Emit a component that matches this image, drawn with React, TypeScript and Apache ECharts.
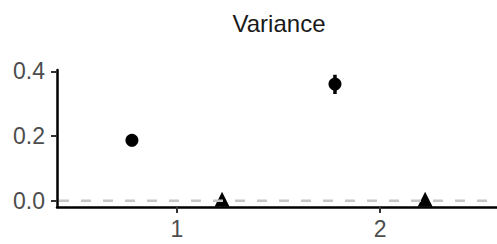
import React, { useEffect, useRef } from "react";
import * as echarts from "echarts";

const groups = [1, 2];
const circleValues = [0.187, 0.361];
const circleLower = [0.183, 0.33];
const circleUpper = [0.191, 0.39];
const triangleValues = [0, 0];
const yTicks = [0, 0.2, 0.4];
const xTicks = [1, 2];
const referenceLine = 0;
const title = "Variance";

const DODGE = 0.222;
const X_MIN = 0.409;
const X_MAX = 2.576;
const Y_MIN = -0.0195;
const Y_MAX = 0.4046;

export default function App() {
  const ref = useRef<HTMLDivElement>(null);
  useEffect(() => {
    if (!ref.current) return;
    const chart = echarts.init(ref.current, null, { renderer: "svg" });
    const font = "Liberation Sans, Arial, sans-serif";
    const errSeries = groups.map((g, i) => ({
      type: "line",
      data: [
        [g - DODGE, circleLower[i]],
        [g - DODGE, circleUpper[i]],
      ],
      showSymbol: false,
      symbol: "none",
      lineStyle: { color: "#000", width: 3.5, cap: "butt" },
      z: 3,
      silent: true,
    }));
    chart.setOption({
      animation: false,
      title: {
        text: title,
        left: 274,
        top: 6,
        textAlign: "center",
        textStyle: { fontFamily: font, fontSize: 24, fontWeight: "normal", color: "#1a1a1a" },
      },
      grid: { left: 57, right: 0, top: 70, bottom: 37, containLabel: false },
      xAxis: {
        type: "value",
        min: X_MIN,
        max: X_MAX,
        splitLine: { show: false },
        axisLine: { show: true, onZero: false, lineStyle: { color: "#000", width: 2.5 } },
        axisTick: { show: true, length: 6, customValues: xTicks, lineStyle: { color: "#333", width: 2 } },
        axisLabel: {
          customValues: xTicks,
          color: "#4d4d4d",
          fontSize: 23,
          fontFamily: font,
          margin: 10,
        },
      },
      yAxis: {
        type: "value",
        min: Y_MIN,
        max: Y_MAX,
        splitLine: { show: false },
        axisLine: { show: true, onZero: false, lineStyle: { color: "#000", width: 2.5 } },
        axisTick: { show: true, length: 6, customValues: yTicks, lineStyle: { color: "#333", width: 2 } },
        axisLabel: {
          customValues: yTicks,
          color: "#4d4d4d",
          fontSize: 23,
          fontFamily: font,
          margin: 12,
          formatter: (v: number) => v.toFixed(1),
        },
      },
      series: [
        ...errSeries,
        {
          type: "scatter",
          data: groups.map((g, i) => [g - DODGE, circleValues[i]]),
          symbol: "circle",
          symbolSize: 13,
          itemStyle: { color: "#000", opacity: 1 },
          z: 4,
        },
        {
          type: "scatter",
          data: groups.map((g, i) => [g + DODGE, triangleValues[i]]),
          symbol: "triangle",
          symbolSize: 15,
          symbolOffset: [0, -1.5],
          itemStyle: { color: "#000", opacity: 1 },
          z: 4,
        },
        {
          type: "line",
          data: [
            [X_MIN, referenceLine],
            [X_MAX, referenceLine],
          ],
          symbol: "none",
          lineStyle: { color: "#c6c6c6", width: 2.5, type: [10, 12], dashOffset: -2, cap: "butt" },
          z: 5,
          silent: true,
        },
      ],
    });
    return () => chart.dispose();
  }, []);
  return <div ref={ref} style={{ width: 497, height: 244, position: "absolute", left: 0, top: 0 }} />;
}
